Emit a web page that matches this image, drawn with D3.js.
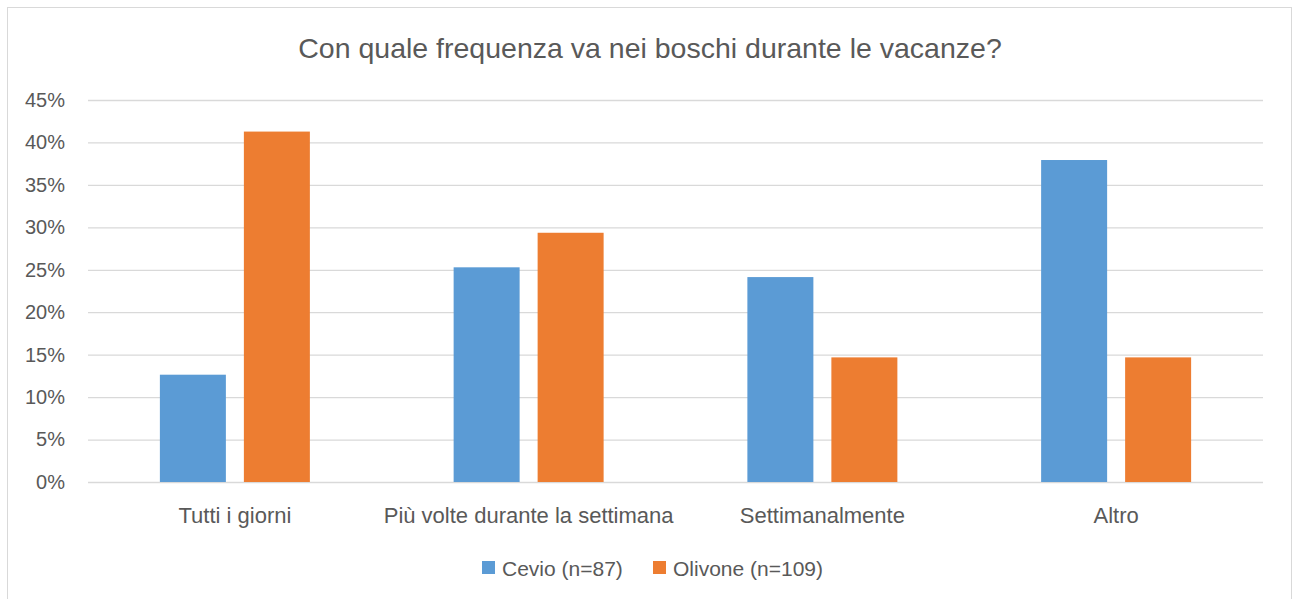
<!DOCTYPE html>
<html><head><meta charset="utf-8">
<script src="https://cdn.jsdelivr.net/npm/d3@7"></script>
<style>body{margin:0;background:#fff}svg{display:block}text{font-family:"Liberation Sans",Arial,sans-serif;fill:#595959}</style>
</head><body><svg id="c" width="1298" height="599"></svg>
<script>
const title = "Con quale frequenza va nei boschi durante le vacanze?";
const categories = ["Tutti i giorni", "Più volte durante la settimana", "Settimanalmente", "Altro"];
const seriesNames = ["Cevio (n=87)", "Olivone (n=109)"];
const cevio = [12.64, 25.29, 24.14, 37.93];
const olivone = [41.28, 29.36, 14.68, 14.68];
const yTicks = [0, 5, 10, 15, 20, 25, 30, 35, 40, 45];
const colors = ["#5B9BD5", "#ED7D31"];

const svg = d3.select("#c");
svg.append("rect").attr("x",7.5).attr("y",7.5).attr("width",1284).attr("height",600).attr("fill","#fff").attr("stroke","#D9D9D9");

const m = {l:88, r:1263, t:100, b:482};
const x0 = d3.scaleBand().domain(categories).range([m.l, m.r]).paddingInner(0.4894).paddingOuter(0.2447);
const x1 = d3.scaleBand().domain(seriesNames).range([0, x0.bandwidth()]).paddingInner(18/84);
const y = d3.scaleLinear().domain([0,45]).range([m.b, m.t]);

svg.append("text").attr("x",650).attr("y",58).attr("text-anchor","middle").attr("font-size",28.5).text(title);

const ga = svg.append("g").attr("transform",`translate(${m.l},0)`)
  .call(d3.axisLeft(y).tickValues(yTicks).tickSize(-(m.r-m.l)).tickFormat(d=>d+"%").tickPadding(23));
ga.select(".domain").remove();
ga.selectAll(".tick line").attr("stroke","#D9D9D9").attr("stroke-width",1.3);
ga.selectAll(".tick text").attr("font-size",20).style("fill","#595959").attr("font-family","Liberation Sans, Arial, sans-serif");

const data = categories.map((c,i)=>({c, vals:[cevio[i], olivone[i]]}));
const g = svg.append("g");
g.selectAll("g").data(data).join("g").attr("transform",d=>`translate(${x0(d.c)},0)`)
  .selectAll("rect").data(d=>d.vals.map((v,j)=>({s:seriesNames[j], v, j}))).join("rect")
  .attr("x",d=>x1(d.s)).attr("width",x1.bandwidth())
  .attr("y",d=>y(d.v)).attr("height",d=>y(0)-y(d.v)).attr("fill",d=>colors[d.j]);

const gx = svg.append("g").attr("transform",`translate(0,${m.b})`)
  .call(d3.axisBottom(x0).tickSize(0));
gx.select(".domain").remove();
gx.selectAll(".tick text").attr("y",41).attr("dy",0).attr("font-size",22).style("fill","#595959").attr("font-family","Liberation Sans, Arial, sans-serif");

// legend
const lg = svg.append("g");
const items = [{n:seriesNames[0],x:482},{n:seriesNames[1],x:653}];
items.forEach((it,i)=>{
  lg.append("rect").attr("x",it.x).attr("y",561).attr("width",13).attr("height",13).attr("fill",colors[i]);
  lg.append("text").attr("x",it.x+20).attr("y",576).attr("font-size",21).text(it.n);
});
</script></body></html>
